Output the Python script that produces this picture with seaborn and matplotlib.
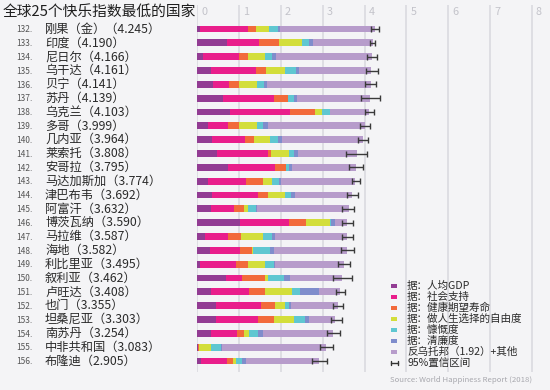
import numpy as np
import pandas as pd
import matplotlib
matplotlib.use("Agg")
import matplotlib.pyplot as plt
import matplotlib.transforms as mtransforms
from matplotlib.patches import Rectangle
from matplotlib.lines import Line2D
import seaborn as sns

# ---------------- data ----------------
ranks = list(range(132, 157))
countries = ["刚果（金）", "印度", "尼日尔", "乌干达", "贝宁", "苏丹", "乌克兰", "多哥",
             "几内亚", "莱索托", "安哥拉", "马达加斯加", "津巴布韦", "阿富汗", "博茨瓦纳",
             "马拉维", "海地", "利比里亚", "叙利亚", "卢旺达", "也门", "坦桑尼亚", "南苏丹",
             "中非共和国", "布隆迪"]
scores = [4.245, 4.190, 4.166, 4.161, 4.141, 4.139, 4.103, 3.999, 3.964, 3.808,
          3.795, 3.774, 3.692, 3.632, 3.590, 3.587, 3.582, 3.495, 3.462, 3.408,
          3.355, 3.303, 3.254, 3.083, 2.905]
gdp = [0.069, 0.721, 0.131, 0.322, 0.378, 0.605, 0.793, 0.259, 0.344, 0.472,
       0.730, 0.262, 0.357, 0.332, 1.017, 0.186, 0.315, 0.076, 0.689, 0.332,
       0.442, 0.455, 0.337, 0.024, 0.091]
social = [1.136, 0.747, 0.867, 1.090, 0.372, 1.240, 1.413, 0.474, 0.792, 1.215,
          1.125, 0.908, 1.094, 0.537, 1.174, 0.541, 0.714, 0.858, 0.382, 0.896,
          1.073, 0.991, 0.608, 0.000, 0.627]
health = [0.204, 0.485, 0.221, 0.237, 0.240, 0.312, 0.609, 0.253, 0.211, 0.079,
          0.269, 0.402, 0.248, 0.255, 0.417, 0.306, 0.289, 0.267, 0.539, 0.400,
          0.343, 0.381, 0.177, 0.010, 0.145]
freedom = [0.312, 0.539, 0.390, 0.450, 0.440, 0.016, 0.163, 0.434, 0.394, 0.423,
           0.000, 0.221, 0.406, 0.085, 0.557, 0.531, 0.025, 0.419, 0.088, 0.636,
           0.244, 0.481, 0.112, 0.305, 0.065]
generosity = [0.197, 0.172, 0.175, 0.259, 0.163, 0.134, 0.187, 0.158, 0.185, 0.116,
              0.079, 0.155, 0.132, 0.191, 0.042, 0.210, 0.392, 0.206, 0.376, 0.200,
              0.083, 0.270, 0.224, 0.218, 0.149]
corruption = [0.052, 0.093, 0.099, 0.061, 0.067, 0.082, 0.011, 0.101, 0.094, 0.112,
              0.061, 0.049, 0.099, 0.036, 0.092, 0.080, 0.104, 0.030, 0.144, 0.444,
              0.064, 0.097, 0.106, 0.038, 0.076]
dystopia = [2.275, 1.433, 2.283, 1.742, 2.481, 1.750, 0.927, 2.320, 1.944, 1.391,
            1.531, 1.777, 1.356, 2.196, 0.291, 1.733, 1.743, 1.639, 1.244, 0.500,
            1.106, 0.628, 1.690, 2.488, 1.752]
ci_low = [4.15, 4.12, 4.05, 4.03, 4.02, 3.92, 4.02, 3.88, 3.85, 3.56,
          3.63, 3.70, 3.59, 3.46, 3.46, 3.47, 3.44, 3.37, 3.25, 3.32,
          3.24, 3.19, 3.11, 2.94, 2.74]
ci_high = [4.35, 4.25, 4.29, 4.31, 4.28, 4.37, 4.22, 4.12, 4.09, 4.05,
           3.97, 3.88, 3.84, 3.75, 3.72, 3.72, 3.74, 3.65, 3.69, 3.53,
           3.48, 3.45, 3.41, 3.25, 3.10]
x_ticks = [0, 1, 2, 3, 4, 5, 6, 7, 8]

components = ["据：人均GDP", "据：社会支持", "据：健康期望寿命", "据：做人生选择的自由度",
              "据：慷慨度", "据：清廉度", "反乌托邦（1.92）+其他"]
colors = ["#923c93", "#e91e8b", "#f26a3b", "#d3de3b", "#5fc7d1", "#7f8dcc", "#b79ccb"]

title = "全球25个快乐指数最低的国家"
source = "Source: World Happiness Report (2018)"
ci_label = "95%置信区间"

# ---------------- figure ----------------
W, H = 550, 390
BG = "#f4f4f6"
sns.set_theme(style="white")
plt.rcParams["font.family"] = ["Noto Sans CJK SC", "DejaVu Sans"]

fig = plt.figure(figsize=(W / 100, H / 100), dpi=100, facecolor=BG)

def fx(px):
    return px / W

def fy(py):
    return 1 - py / H

x0, x8 = 197.3, 532.0
ppu = (x8 - x0) / 8
ax_top, ax_bot = 5, 372
ax = fig.add_axes([fx(x0), fy(ax_bot), fx(W - x0), (ax_bot - ax_top) / H])
ax.set_facecolor(BG)

df = pd.DataFrame({"country": countries, "gdp": gdp, "social": social, "health": health,
                   "freedom": freedom, "generosity": generosity,
                   "corruption": corruption, "dystopia": dystopia})
cols = ["gdp", "social", "health", "freedom", "generosity", "corruption", "dystopia"]
cum = df[cols].cumsum(axis=1)

# gridlines first
for t in x_ticks:
    ax.axvline(t, color="#dcdce1", lw=1.3, zorder=0)

# stacked bars: draw cumulative totals back to front
for k in range(len(cols) - 1, -1, -1):
    sns.barplot(x=cum[cols[k]].values, y=df["country"], order=countries, orient="h",
                color=colors[k], width=0.5, linewidth=0, saturation=1,
                errorbar=None, ax=ax, zorder=2 + (len(cols) - k) * 0.01)

ypos = np.arange(len(countries))
tot = np.array(scores)
ax.errorbar(tot, ypos, xerr=[tot - np.array(ci_low), np.array(ci_high) - tot],
            fmt="none", ecolor="#3a3a3a", elinewidth=1.0, capsize=2.0, capthick=1.0,
            zorder=4)

row_step = (361 - 29) / 24
ax.set_xlim(0, (W - x0) / ppu)
ax.set_ylim(24 + (ax_bot - 361) / row_step, -(29 - ax_top) / row_step)
ax.set_xlabel("")
ax.set_ylabel("")
ax.set_xticks([])
ax.set_yticks([])
for s in ax.spines.values():
    s.set_visible(False)

# top tick labels (inside)
tr = mtransforms.blended_transform_factory(ax.transData, fig.transFigure)
for t in x_ticks:
    ax.text(t + 4 / ppu, fy(12), str(t), transform=tr, ha="left", va="center",
            fontsize=7.8, color="#c3c3ca")

# row labels
trl = mtransforms.blended_transform_factory(fig.transFigure, ax.transData)
for i, (r, c, s) in enumerate(zip(ranks, countries, scores)):
    ax.text(fx(16), i + 0.05, f"{r}.", transform=trl, ha="left", va="center",
            fontsize=6, color="#555555", clip_on=False)
    ax.text(fx(45), i, f"{c}（{s:.3f}）", transform=trl, ha="left", va="center",
            fontsize=8.8, color="#2a2a2a", clip_on=False)

# title
fig.text(fx(3), fy(12), title, ha="left", va="center", fontsize=10.6, color="#1e1e1e")

# legend (manual)
ly0, lstep = 286, 11.0
for j, (lab, col) in enumerate(zip(components, colors)):
    yy = ly0 + j * lstep
    fig.patches.append(Rectangle((fx(391), fy(yy + 1.6)), fx(5.5), 3.2 / H,
                                 transform=fig.transFigure, facecolor=col,
                                 edgecolor="none"))
    fig.text(fx(407), fy(yy), lab, ha="left", va="center", fontsize=7.6, color="#2a2a2a")
yy = ly0 + len(components) * lstep
fig.lines.append(Line2D([fx(391), fx(398)], [fy(yy), fy(yy)], transform=fig.transFigure,
                        color="#333333", lw=1))
for xx in (391, 398):
    fig.lines.append(Line2D([fx(xx), fx(xx)], [fy(yy - 2), fy(yy + 2)],
                            transform=fig.transFigure, color="#333333", lw=1))
fig.text(fx(407), fy(yy), ci_label, ha="left", va="center", fontsize=7.6, color="#2a2a2a")

fig.text(fx(390), fy(379.5), source, ha="left", va="center", fontsize=5.6,
         color="#a8a8ae")

fig.savefig("out.png", dpi=100, facecolor=BG)
